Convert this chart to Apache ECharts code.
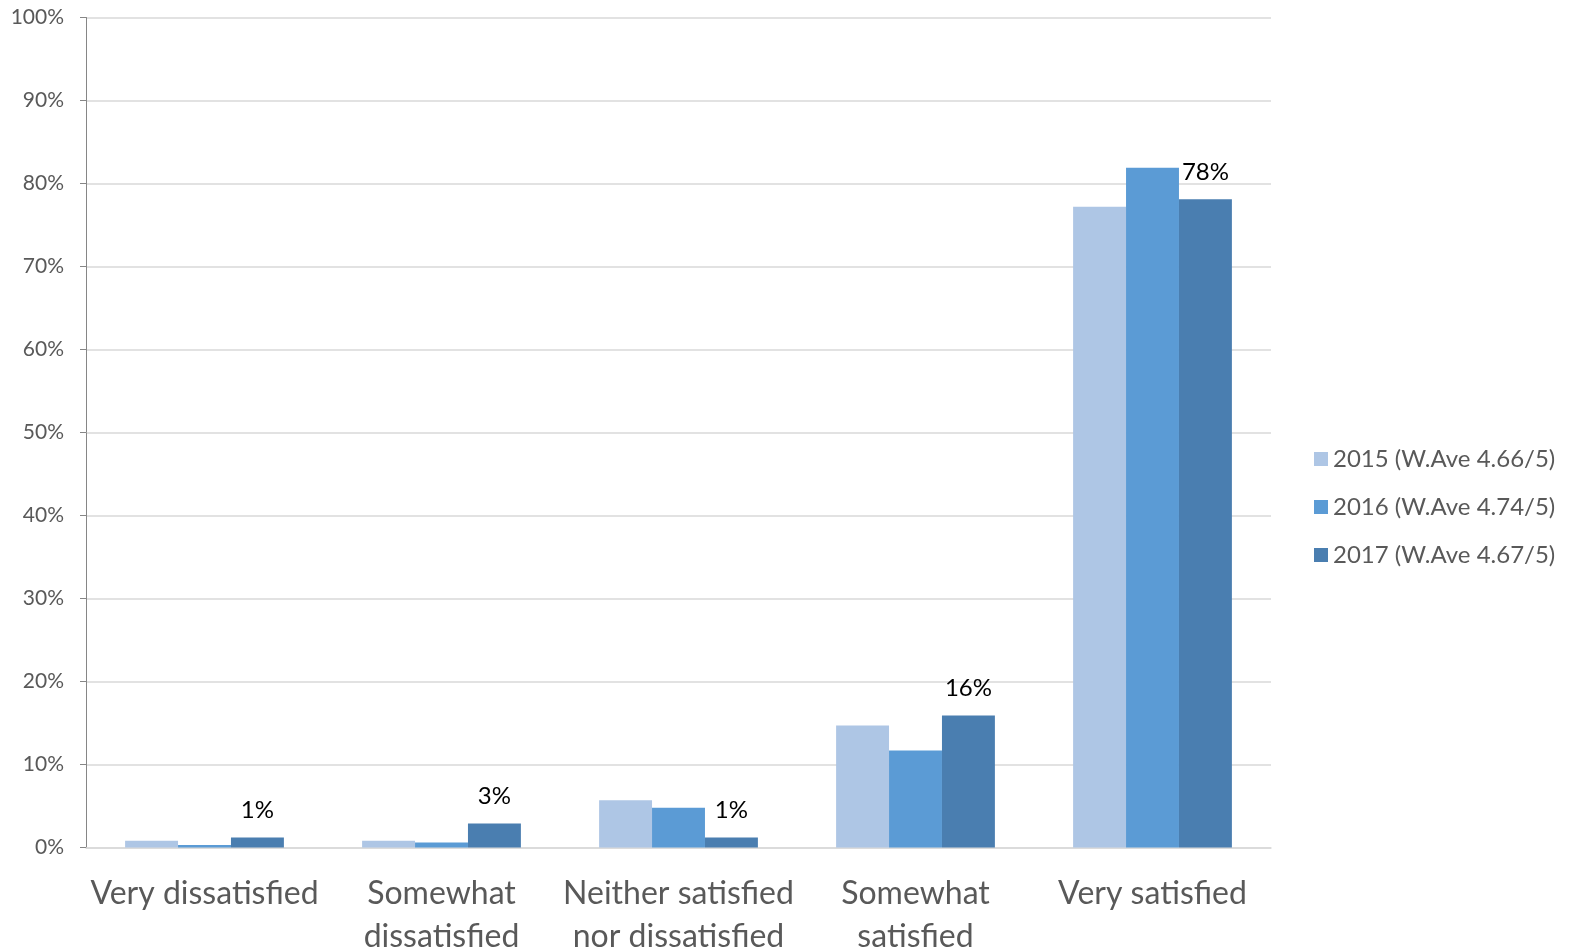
<!DOCTYPE html>
<html>
<head>
<meta charset="utf-8">
<script src="https://cdn.jsdelivr.net/npm/echarts@6/dist/echarts.min.js"></script>
<style>
    html, body { margin: 0; padding: 0; background: #fff; }
    #chart { width: 1571px; height: 951px; }
</style>
</head>
<body>
<div id="chart"></div>
<script>
// categories and values (percent)
const categories = [
    "Very dissatisfied",
    "Somewhat\ndissatisfied",
    "Neither satisfied\nnor dissatisfied",
    "Somewhat\nsatisfied",
    "Very satisfied"
];
const seriesNames = ["2015 (W.Ave 4.66/5)", "2016 (W.Ave 4.74/5)", "2017 (W.Ave 4.67/5)"];
const values2015 = [0.8, 0.8, 5.7, 14.7, 77.2];
const values2016 = [0.3, 0.6, 4.8, 11.7, 81.9];
const values2017 = [1.2, 2.9, 1.2, 15.9, 78.1];
const yTicks = [0, 10, 20, 30, 40, 50, 60, 70, 80, 90, 100];

const colors = ["#aec6e5", "#5b9bd5", "#4a7eb0"];
const fontFamily = "Lato, 'Open Sans', sans-serif";

let myChart = echarts.init(document.getElementById("chart"));

function makeSeries(name, data, color, showLabel) {
    return {
        name: name,
        type: "bar",
        data: data,
        barGap: "0%",
        barCategoryGap: "33%",
        itemStyle: { color: color },
        label: {
            show: showLabel,
            position: "top",
            distance: 15,
            color: "#000",
            fontSize: 24,
            fontFamily: fontFamily,
            formatter: function (p) {
                return Math.round(p.value) + "%";
            }
        }
    };
}

let option = {
    animation: false,
    color: colors,
    textStyle: { fontFamily: fontFamily },
    grid: {
        left: 86,
        right: 300,
        top: 17.5,
        bottom: 103.5,
        outerBoundsMode: "none",
        containLabel: false
    },
    legend: {
        orient: "vertical",
        left: 1309,
        top: 442,
        itemWidth: 14,
        itemHeight: 14,
        itemGap: 24,
        icon: "rect",
        textStyle: {
            color: "#595959",
            fontSize: 24,
            lineHeight: 24,
            fontFamily: fontFamily
        },
        data: seriesNames
    },
    xAxis: {
        type: "category",
        data: categories,
        axisLine: { show: true, lineStyle: { color: "#d9d9d9", width: 1.5 } },
        axisTick: { show: false },
        axisLabel: {
            color: "#595959",
            fontSize: 32,
            lineHeight: 43,
            margin: 25,
            interval: 0,
            fontFamily: fontFamily
        }
    },
    yAxis: {
        type: "value",
        min: yTicks[0],
        max: yTicks[yTicks.length - 1],
        interval: 10,
        axisLine: { show: true, lineStyle: { color: "#868686" } },
        axisTick: { show: true, length: 6, lineStyle: { color: "#868686" } },
        splitLine: { lineStyle: { color: "#d9d9d9", width: 1.5 } },
        axisLabel: {
            color: "#595959",
            fontSize: 21,
            margin: 22,
            fontFamily: fontFamily,
            formatter: "{value}%"
        }
    },
    series: [
        makeSeries(seriesNames[0], values2015, colors[0], false),
        makeSeries(seriesNames[1], values2016, colors[1], false),
        makeSeries(seriesNames[2], values2017, colors[2], true)
    ]
};

myChart.setOption(option);
window.addEventListener("resize", function () {
    myChart.resize();
});
</script>
</body>
</html>
